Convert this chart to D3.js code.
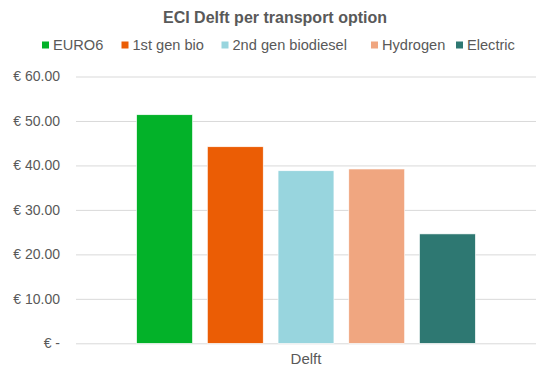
<!DOCTYPE html>
<html>
<head>
<meta charset="utf-8">
<script src="https://cdn.jsdelivr.net/npm/d3@7"></script>
<style>
  html, body { margin: 0; padding: 0; background: #fff; }
  svg { display: block; font-family: "Liberation Sans", Arial, sans-serif; }
</style>
</head>
<body>
<svg id="chart" width="543" height="374"></svg>
<script>
// Cost per transport option, Delft
const categories = ["Delft"];
const series = ["EURO6", "1st gen bio", "2nd gen biodiesel", "Hydrogen", "Electric"];
const values = [51.4, 44.2, 38.8, 39.2, 24.6];
const colors = ["#03B229", "#EB5D05", "#98D5DE", "#F0A680", "#2E7872"];
const yTicks = [0, 10, 20, 30, 40, 50, 60];
const yTickLabels = ["€ -", "€ 10.00", "€ 20.00", "€ 30.00", "€ 40.00", "€ 50.00", "€ 60.00"];
const title = "ECI Delft per transport option";

const svg = d3.select("#chart");
const plot = { left: 76, right: 536, top: 76.5, bottom: 343.3 };
const textColor = "#595959";

const y = d3.scaleLinear().domain([0, 60]).range([plot.bottom, plot.top]);
const x0 = d3.scaleBand().domain(categories).range([plot.left, plot.right]).paddingOuter(0.179).paddingInner(0);
const x1 = d3.scaleBand().domain(series).range([0, x0.bandwidth()]).paddingInner(0.21).paddingOuter(0);

// Gridlines and value axis labels
const yAxis = d3.axisLeft(y)
  .tickValues(yTicks)
  .tickSize(-(plot.right - plot.left))
  .tickFormat((d, i) => yTickLabels[i]);

const gy = svg.append("g")
  .attr("transform", `translate(${plot.left},0)`)
  .call(yAxis);
gy.select(".domain").remove();
gy.selectAll(".tick line").attr("stroke", "#D9D9D9").attr("stroke-width", 1);
gy.selectAll(".tick text")
  .attr("x", -16)
  .attr("fill", textColor)
  .style("font-size", "14px")
  .style("font-family", "'Liberation Sans', Arial, sans-serif");

// Bars
const groups = svg.append("g").selectAll("g")
  .data(categories)
  .join("g")
  .attr("transform", d => `translate(${x0(d)},0)`);

groups.selectAll("rect")
  .data(() => series.map((s, i) => ({ s, v: values[i], c: colors[i] })))
  .join("rect")
  .attr("x", d => x1(d.s))
  .attr("width", x1.bandwidth())
  .attr("y", d => y(d.v))
  .attr("height", d => y(0) - y(d.v))
  .attr("fill", d => d.c)
  .attr("stroke", "#ffffff")
  .attr("stroke-width", 0.6);

// Category axis label
const xAxis = d3.axisBottom(x0).tickSize(0).tickPadding(0);
const gx = svg.append("g")
  .attr("transform", `translate(0,${plot.bottom})`)
  .call(xAxis);
gx.select(".domain").remove();
gx.selectAll(".tick text")
  .attr("y", 10)
  .attr("fill", textColor)
  .style("font-size", "15px")
  .style("font-family", "'Liberation Sans', Arial, sans-serif");

// Title
svg.append("text")
  .attr("x", 275)
  .attr("y", 23)
  .attr("text-anchor", "middle")
  .attr("fill", textColor)
  .style("font-size", "16px")
  .style("font-weight", "bold")
  .text(title);

// Legend
const legendX = [42, 121.5, 221.5, 371, 456];
const legend = svg.append("g").selectAll("g")
  .data(series)
  .join("g")
  .attr("transform", (d, i) => `translate(${legendX[i]},45)`);
legend.append("rect")
  .attr("x", 0).attr("y", -3.5)
  .attr("width", 7).attr("height", 7)
  .attr("fill", (d, i) => colors[i]);
legend.append("text")
  .attr("x", 11)
  .attr("y", 5)
  .attr("fill", textColor)
  .style("font-size", "14.6px")
  .text(d => d);
</script>
</body>
</html>
